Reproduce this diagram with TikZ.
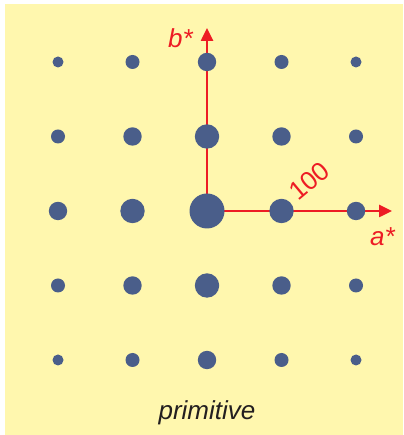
\documentclass[tikz,border=0pt]{standalone}
\usepackage{fontspec}
\setmainfont{Liberation Sans}
\usepackage{tikz}
\usetikzlibrary{arrows.meta, positioning, calc}
\definecolor{recip-yellow}{RGB}{255,247,174}
\definecolor{recip-blue}{RGB}{74,94,138}
\definecolor{recip-red}{RGB}{237,28,36}
\definecolor{recip-text}{RGB}{35,31,32}

\begin{document}
\begin{tikzpicture}[
    x=1pt, y=1pt,
    spot/.style={circle, fill=recip-blue, inner sep=0pt, minimum size=#1},
    axis/.style={-{Triangle[length=13pt, width=12pt]}, line width=2.5pt, color=recip-red},
    lbl/.style={font=\fontsize{26}{30}\selectfont, inner sep=0pt}
  ]
    \useasboundingbox (0,0) rectangle (403,435);
    \fill[recip-yellow] (5,0) rectangle (403,431);

    \coordinate (o) at (207,224);
    \coordinate (astar) at (392,224);
    \coordinate (bstar) at (207,407);
    \draw[axis] (o) -- (astar);
    \draw[axis] (o) -- (bstar);

    \foreach \h in {-2,...,2}
      \foreach \k in {-2,...,2} {
        \pgfmathsetmacro{\r}{{35,24.4,18.4,14,11}[int(abs(\h)+abs(\k))]}
        \node[spot=\r pt] (p\h\k) at (207+74.5*\h, 224+74.5*\k) {};
      }

    \node[lbl, color=recip-red, below left=0pt and 14pt of bstar] (bl) {\itshape b*};
    \node[lbl, color=recip-red, below left=16pt and -3pt of astar] (al) {\itshape a*};
    \node[lbl, color=recip-red, rotate=40] (hkl) at ($(p10)+(28,30)$) {100};
    \node[lbl, color=recip-text, anchor=base] (cap) at (207,15) {\itshape primitive};
  \end{tikzpicture}
\end{document}
